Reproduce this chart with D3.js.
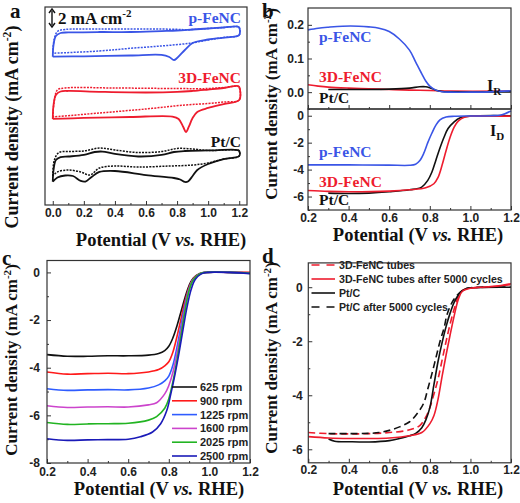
<!DOCTYPE html>
<html><head><meta charset="utf-8">
<script src="https://cdn.jsdelivr.net/npm/d3@7"></script>
<style>body{margin:0;background:#fff}svg{display:block}</style>
</head><body>
<svg id="chart" width="520" height="503"></svg>
<script>
// ---------- DATA ----------
// Panel a: cyclic voltammograms (V, offset current density in mA cm-2 units)
const cvBlueSolid=[[0,16.48],[0.005,17.78],[0.02,18.78],[0.05,19.11],[0.1,19.17],[0.3,19.22],[0.5,19.22],[0.7,19.33],[0.8,19.39],[0.9,19.5],[1.0,19.61],[1.1,19.72],[1.19,19.83],[1.2,19.72],[1.2,18.89],[1.15,18.67],[1.0,18.39],[0.9,18.0],[0.85,17.22],[0.8,16.33],[0.78,16.11],[0.75,16.44],[0.7,16.67],[0.5,16.61],[0.2,16.52],[0,16.48]];
const cvBlueDot=[[0,16.86],[0.008,18.33],[0.03,19.28],[0.08,19.5],[0.3,19.56],[0.6,19.56],[0.8,19.52],[0.86,19.47],[0.95,19.56],[1.1,19.72],[1.19,19.83],[1.2,19.72],[1.2,18.89],[1.1,18.61],[1.0,18.33],[0.88,17.97],[0.7,17.67],[0.5,17.41],[0.3,17.11],[0,16.86]];
const cvRedSolid=[[0,9.56],[0.005,11.11],[0.02,12.22],[0.05,12.61],[0.1,12.67],[0.3,12.58],[0.6,12.5],[0.8,12.56],[0.9,12.67],[1.0,12.83],[1.1,13.0],[1.19,13.22],[1.2,13.11],[1.2,11.67],[1.1,11.22],[1.0,10.78],[0.93,10.33],[0.9,9.67],[0.875,8.67],[0.857,8.11],[0.84,8.67],[0.81,9.56],[0.77,9.83],[0.5,9.78],[0.2,9.67],[0,9.56]];
const cvRedDot=[[0,9.78],[0.008,11.33],[0.03,12.78],[0.08,13.0],[0.4,13.0],[0.8,12.94],[1.0,12.94],[1.1,13.06],[1.19,13.22],[1.2,13.11],[1.2,11.67],[1.1,11.44],[1.0,11.28],[0.85,11.11],[0.6,10.67],[0.3,10.22],[0,9.78]];
const cvBlackSolid=[[0,2.59],[0.005,3.89],[0.02,5.0],[0.05,5.33],[0.1,5.39],[0.2,5.56],[0.27,5.89],[0.32,5.94],[0.4,5.67],[0.55,5.39],[0.7,5.56],[0.78,5.89],[0.85,6.0],[1.0,6.06],[1.19,6.11],[1.2,6.0],[1.2,5.44],[1.1,5.11],[1.0,4.56],[0.93,3.89],[0.9,3.22],[0.87,2.61],[0.85,2.56],[0.82,2.83],[0.78,3.0],[0.6,3.33],[0.4,3.78],[0.3,3.67],[0.25,3.11],[0.21,2.61],[0.18,2.67],[0.13,3.22],[0.08,3.28],[0.03,3.06],[0,2.59]];
const cvBlackDot=[[0,3.22],[0.01,5.0],[0.04,5.83],[0.1,5.94],[0.2,6.0],[0.3,6.33],[0.4,6.11],[0.55,5.83],[0.7,5.94],[0.8,6.28],[0.9,6.22],[1.0,6.06],[1.19,6.11],[1.2,6.0],[1.2,5.44],[1.1,5.11],[1.0,4.67],[0.9,4.44],[0.75,4.33],[0.55,4.22],[0.4,4.33],[0.3,4.11],[0.24,3.33],[0.18,3.67],[0.1,3.89],[0.03,3.67],[0,3.22]];
const cvNames=["p-FeNC","3D-FeNC","Pt/C"];

// Panel b: ring (I_R) and disk (I_D) currents
const ringBlue=[[0.2,0.185],[0.25,0.19],[0.3,0.193],[0.37,0.196],[0.45,0.196],[0.5,0.194],[0.55,0.19],[0.6,0.18],[0.65,0.158],[0.7,0.125],[0.73,0.09],[0.76,0.055],[0.78,0.033],[0.8,0.018],[0.83,0.006],[0.86,0.001],[0.9,0.0],[1.0,0.0],[1.1,0.001],[1.2,0.004]];
const ringRed=[[0.2,0.022],[0.25,0.018],[0.3,0.015],[0.4,0.012],[0.5,0.01],[0.6,0.008],[0.7,0.006],[0.8,0.005],[0.9,0.003],[1.2,0.003]];
const ringBlack=[[0.3,0.008],[0.5,0.008],[0.6,0.009],[0.7,0.012],[0.75,0.016],[0.78,0.016],[0.8,0.013],[0.83,0.006],[0.86,0.002],[0.9,0.001],[1.2,0.001]];
const diskBlue=[[0.2,-3.65],[0.4,-3.65],[0.6,-3.67],[0.7,-3.68],[0.73,-3.6],[0.75,-3.35],[0.77,-2.8],[0.79,-2.0],[0.81,-1.3],[0.83,-0.7],[0.85,-0.3],[0.88,-0.1],[0.92,-0.04],[1.0,-0.02],[1.1,0.0],[1.15,0.05],[1.2,0.35]];
const diskRed=[[0.2,-5.55],[0.3,-5.62],[0.4,-5.65],[0.6,-5.6],[0.7,-5.5],[0.78,-5.35],[0.82,-5.05],[0.84,-4.6],[0.86,-3.7],[0.88,-2.6],[0.9,-1.6],[0.92,-0.85],[0.94,-0.4],[0.97,-0.12],[1.0,-0.04],[1.2,-0.03]];
const diskBlack=[[0.3,-5.75],[0.4,-5.78],[0.5,-5.75],[0.6,-5.65],[0.7,-5.5],[0.76,-5.3],[0.79,-4.8],[0.81,-4.2],[0.83,-3.3],[0.85,-2.4],[0.87,-1.6],[0.89,-0.95],[0.92,-0.45],[0.95,-0.15],[1.0,-0.03],[1.2,0.0]];

// Panel c: LSV at various rotation rates
const rpmLabels=["625 rpm","900 rpm","1225 rpm","1600 rpm","2025 rpm","2500 rpm"];
const lsv625=[[0.2,-3.45],[0.3,-3.52],[0.4,-3.52],[0.5,-3.5],[0.6,-3.5],[0.7,-3.47],[0.75,-3.4],[0.78,-3.28],[0.8,-3.1],[0.82,-2.75],[0.84,-2.25],[0.86,-1.65],[0.88,-1.05],[0.9,-0.55],[0.92,-0.25],[0.95,-0.06],[0.98,0.0],[1.1,0.0],[1.2,-0.02]];
const lsv900=[[0.2,-4.18],[0.3,-4.27],[0.4,-4.25],[0.5,-4.23],[0.6,-4.25],[0.7,-4.18],[0.75,-4.08],[0.78,-3.92],[0.8,-3.75],[0.82,-3.35],[0.84,-2.7],[0.86,-1.95],[0.88,-1.2],[0.9,-0.62],[0.92,-0.28],[0.95,-0.07],[0.98,0.0],[1.1,0.0],[1.2,0.0]];
const lsv1225=[[0.2,-4.88],[0.3,-4.95],[0.4,-4.93],[0.5,-4.92],[0.6,-4.93],[0.7,-4.85],[0.75,-4.72],[0.78,-4.55],[0.8,-4.35],[0.82,-3.9],[0.84,-3.15],[0.86,-2.25],[0.88,-1.35],[0.9,-0.68],[0.92,-0.3],[0.95,-0.07],[0.98,0.0],[1.1,0.0],[1.2,-0.03]];
const lsv1600=[[0.2,-5.6],[0.3,-5.67],[0.4,-5.65],[0.5,-5.64],[0.6,-5.65],[0.7,-5.56],[0.74,-5.47],[0.78,-5.1],[0.8,-4.75],[0.82,-4.2],[0.84,-3.4],[0.86,-2.45],[0.88,-1.5],[0.9,-0.72],[0.92,-0.3],[0.95,-0.07],[0.98,0.0],[1.1,0.0],[1.2,-0.03]];
const lsv2025=[[0.2,-6.3],[0.3,-6.38],[0.4,-6.36],[0.5,-6.35],[0.6,-6.33],[0.7,-6.2],[0.74,-6.05],[0.78,-5.7],[0.8,-5.3],[0.82,-4.6],[0.84,-3.7],[0.86,-2.65],[0.88,-1.6],[0.9,-0.76],[0.92,-0.32],[0.95,-0.07],[0.98,0.0],[1.1,0.0],[1.2,-0.04]];
const lsv2500=[[0.2,-6.98],[0.3,-7.05],[0.4,-7.03],[0.5,-7.02],[0.6,-7.0],[0.66,-6.9],[0.72,-6.7],[0.76,-6.35],[0.79,-5.8],[0.81,-5.1],[0.83,-4.3],[0.85,-3.4],[0.87,-2.4],[0.89,-1.45],[0.91,-0.72],[0.93,-0.3],[0.96,-0.06],[0.99,0.0],[1.1,0.0],[1.2,-0.05]];

// Panel d: stability
const dNames=["3D-FeNC tubes","3D-FeNC tubes after 5000 cycles","Pt/C","Pt/C after 5000 cycles"];
const dRedDash=[[0.2,-5.38],[0.3,-5.42],[0.4,-5.43],[0.5,-5.42],[0.6,-5.38],[0.7,-5.28],[0.75,-5.12],[0.78,-4.8],[0.8,-4.45],[0.82,-3.95],[0.84,-3.4],[0.86,-2.7],[0.88,-2.0],[0.9,-1.35],[0.92,-0.8],[0.94,-0.35],[0.96,-0.12],[1.0,-0.03],[1.1,0.01],[1.2,0.1]];
const dRedSolid=[[0.2,-5.53],[0.3,-5.58],[0.4,-5.6],[0.5,-5.6],[0.6,-5.58],[0.7,-5.5],[0.76,-5.38],[0.8,-5.05],[0.82,-4.75],[0.84,-4.15],[0.86,-3.3],[0.88,-2.5],[0.9,-1.75],[0.92,-1.05],[0.94,-0.45],[0.96,-0.15],[1.0,-0.04],[1.05,0.0],[1.1,0.02],[1.15,0.06],[1.2,0.13]];
const dBlackSolid=[[0.3,-5.62],[0.33,-5.7],[0.4,-5.72],[0.5,-5.73],[0.6,-5.68],[0.65,-5.6],[0.7,-5.5],[0.73,-5.41],[0.76,-5.2],[0.78,-4.91],[0.8,-4.45],[0.82,-3.6],[0.84,-2.75],[0.86,-2.05],[0.88,-1.45],[0.9,-0.95],[0.92,-0.55],[0.95,-0.2],[0.98,-0.05],[1.0,-0.02],[1.2,0.0]];
const dBlackDash=[[0.3,-5.42],[0.4,-5.42],[0.5,-5.41],[0.55,-5.38],[0.6,-5.3],[0.65,-5.17],[0.7,-4.98],[0.74,-4.65],[0.77,-4.28],[0.79,-3.75],[0.81,-3.2],[0.83,-2.6],[0.85,-2.0],[0.87,-1.5],[0.885,-1.0],[0.91,-0.55],[0.94,-0.25],[0.97,-0.08],[1.0,-0.02],[1.2,0.0]];

// tick values
const xTicksA=[0,0.2,0.4,0.6,0.8,1.0,1.2];
const xTicksB=[0.2,0.4,0.6,0.8,1.0,1.2];
const yTicksBTop=[0,0.1,0.2];
const yTicksBBot=[-6,-4,-2,0];
const yTicksC=[-8,-6,-4,-2,0];
const yTicksD=[-6,-4,-2,0];

// ---------- DRAW ----------
const svg=d3.select("#chart");
const SERIF="'Liberation Serif','Times New Roman',serif";
const SANS="'Liberation Sans',Arial,sans-serif";
const BLUE="#3a55e6", RED="#ee1c2e", BLACK="#111";
const FRAME="#333";

function axisX(g,x,y0,ticks,minor,fmt,showLabels,pad){
  const ax=d3.axisBottom(x).tickValues(ticks).tickSize(-4).tickPadding(pad||3).tickFormat(showLabels?fmt:"");
  const gg=g.append("g").attr("transform",`translate(0,${y0})`).call(ax);
  gg.select(".domain").remove();
  gg.selectAll("line").attr("stroke",FRAME);
  gg.selectAll("text").attr("font-family",SANS).attr("font-weight","bold").attr("font-size",12).attr("fill","#222");
  if(minor){
    const am=d3.axisBottom(x).tickValues(minor).tickSize(-2).tickFormat("");
    const gm=g.append("g").attr("transform",`translate(0,${y0})`).call(am);
    gm.select(".domain").remove(); gm.selectAll("line").attr("stroke",FRAME);
  }
}
function axisY(g,y,x0,ticks,minor,fmt,pad){
  const ax=d3.axisLeft(y).tickValues(ticks).tickSize(-4).tickPadding(pad||4).tickFormat(fmt);
  const gg=g.append("g").attr("transform",`translate(${x0},0)`).call(ax);
  gg.select(".domain").remove();
  gg.selectAll("line").attr("stroke",FRAME);
  gg.selectAll("text").attr("font-family",SANS).attr("font-weight","bold").attr("font-size",12).attr("fill","#222");
  if(minor){
    const am=d3.axisLeft(y).tickValues(minor).tickSize(-2).tickFormat("");
    const gm=g.append("g").attr("transform",`translate(${x0},0)`).call(am);
    gm.select(".domain").remove(); gm.selectAll("line").attr("stroke",FRAME);
  }
}
function frame(x,y){
  const [x0,x1]=x.range(), [y0,y1]=y.range();
  svg.append("rect").attr("x",x0).attr("y",Math.min(y0,y1)).attr("width",x1-x0).attr("height",Math.abs(y0-y1))
    .attr("fill","none").attr("stroke",FRAME).attr("stroke-width",1.2);
}
function curve(g,data,x,y,color,dash,w){
  const line=d3.line().x(d=>x(d[0])).y(d=>y(d[1])).curve(d3.curveCatmullRom.alpha(0.5));
  g.append("path").datum(data).attr("d",line).attr("fill","none").attr("stroke",color)
   .attr("stroke-width",w||1.6).attr("stroke-dasharray",dash||null).attr("stroke-linejoin","round");
}
function xlabel(cx,by){
  const t=svg.append("text").attr("x",cx).attr("y",by).attr("text-anchor","middle")
    .attr("font-family",SERIF).attr("font-weight","bold").attr("font-size",18.5).attr("fill","#111");
  t.append("tspan").text("Potential (V ");
  t.append("tspan").attr("font-style","italic").text("vs.");
  t.append("tspan").text(" RHE)");
}
function ylabel(cx,cy,fs){
  const t=svg.append("text").attr("transform",`translate(${cx},${cy}) rotate(-90)`).attr("text-anchor","middle")
    .attr("dy","0.35em").attr("font-family",SERIF).attr("font-weight","bold").attr("font-size",fs).attr("fill","#111");
  t.append("tspan").text("Current density (mA cm");
  t.append("tspan").attr("font-size",fs*0.65).attr("dy",-fs*0.38).text("-2");
  t.append("tspan").attr("dy",fs*0.38).text(")");
}
function plabel(x,y,s){
  svg.append("text").attr("x",x).attr("y",y).attr("font-family",SERIF).attr("font-weight","bold")
    .attr("font-size",21).attr("fill","#111").text(s);
}
function tlabel(x,y,s,color,anchor){
  svg.append("text").attr("x",x).attr("y",y).attr("text-anchor",anchor||"start").attr("font-family",SERIF)
    .attr("font-weight","bold").attr("font-size",15.5).attr("fill",color).text(s);
}
const fmt1=d3.format(".1f");
const fmtI=d=>d3.format("d")(d).replace("−","-");

// ----- Panel a -----
{
  const x=d3.scaleLinear().domain([-0.05,1.25]).range([45,247]);
  const y=d3.scaleLinear().domain([0,22]).range([205,7]);
  const g=svg.append("g");
  frame(x,y);
  axisX(g,x,205,xTicksA,[0.1,0.3,0.5,0.7,0.9,1.1],fmt1,true);
  const dot="2,1.2";
  curve(g,cvBlueDot,x,y,BLUE,dot,1.5);
  curve(g,cvBlueSolid,x,y,BLUE,null,1.8);
  curve(g,cvRedDot,x,y,RED,dot,1.5);
  curve(g,cvRedSolid,x,y,RED,null,1.8);
  curve(g,cvBlackDot,x,y,BLACK,dot,1.5);
  curve(g,cvBlackSolid,x,y,BLACK,null,1.8);
  tlabel(241,23,cvNames[0],BLUE,"end");
  tlabel(241,83,cvNames[1],RED,"end");
  tlabel(241,147,cvNames[2],BLACK,"end");
  // scale bar 2 mA cm-2
  const sb0=y(22)+2, sb1=sb0+ (y(0)-y(2));
  const sx=52;
  svg.append("line").attr("x1",sx).attr("x2",sx).attr("y1",sb0+2).attr("y2",sb1-2).attr("stroke","#111").attr("stroke-width",1.4);
  svg.append("path").attr("d",`M${sx-3},${sb0+4}L${sx},${sb0}L${sx+3},${sb0+4}`).attr("fill","none").attr("stroke","#111").attr("stroke-width",1.4);
  svg.append("path").attr("d",`M${sx-3},${sb1-4}L${sx},${sb1}L${sx+3},${sb1-4}`).attr("fill","none").attr("stroke","#111").attr("stroke-width",1.4);
  const t=svg.append("text").attr("x",58).attr("y",24).attr("font-family",SERIF).attr("font-weight","bold").attr("font-size",17).attr("fill","#111");
  t.append("tspan").text("2 mA cm");
  t.append("tspan").attr("font-size",11).attr("dy",-7).text("-2");
  xlabel(161,246);
  ylabel(12,127,18);
  plabel(10,18,"a");
}
// ----- Panel b -----
{
  const x=d3.scaleLinear().domain([0.2,1.2]).range([308,511]);
  const yT=d3.scaleLinear().domain([-0.05,0.25]).range([109,8]);
  const yB=d3.scaleLinear().domain([-7,0.5]).range([210,109]);
  const g=svg.append("g");
  frame(x,yT); frame(x,yB);
  axisX(g,x,109,xTicksB,[0.3,0.5,0.7,0.9,1.1],fmt1,false);
  axisX(g,x,210,xTicksB,[0.3,0.5,0.7,0.9,1.1],fmt1,true);
  axisY(g,yT,308,yTicksBTop,[-0.05,0.05,0.15],fmt1,4);
  axisY(g,yB,308,yTicksBBot,[-7,-5,-3,-1],fmtI,4);
  curve(g,ringRed,x,yT,RED,null,1.6);
  curve(g,ringBlack,x,yT,BLACK,null,1.6);
  curve(g,ringBlue,x,yT,BLUE,null,1.6);
  curve(g,diskBlack,x,yB,BLACK,null,1.6);
  curve(g,diskRed,x,yB,RED,null,1.6);
  curve(g,diskBlue,x,yB,BLUE,null,1.6);
  tlabel(319,42,cvNames[0],BLUE);
  tlabel(319,82,cvNames[1],RED);
  tlabel(319,103,cvNames[2],BLACK);
  tlabel(319,157,cvNames[0],BLUE);
  tlabel(319,187,cvNames[1],RED);
  tlabel(319,205,cvNames[2],BLACK);
  const r=svg.append("text").attr("x",487).attr("y",91).attr("font-family",SERIF).attr("font-weight","bold").attr("font-size",16).attr("fill","#111");
  r.append("tspan").text("I"); r.append("tspan").attr("font-size",11).attr("dy",4).text("R");
  const dd=svg.append("text").attr("x",490).attr("y",136).attr("font-family",SERIF).attr("font-weight","bold").attr("font-size",16).attr("fill","#111");
  dd.append("tspan").text("I"); dd.append("tspan").attr("font-size",11).attr("dy",4).text("D");
  xlabel(418,241);
  ylabel(271,104,17);
  plabel(262,18,"b");
}
// ----- Panel c -----
{
  const x=d3.scaleLinear().domain([0.2,1.2]).range([47,250]);
  const y=d3.scaleLinear().domain([-8,0.5]).range([463,260.5]);
  const g=svg.append("g");
  frame(x,y);
  axisX(g,x,463,xTicksB,[0.3,0.5,0.7,0.9,1.1],fmt1,true,4);
  axisY(g,y,47,yTicksC,[-7,-5,-3,-1],fmtI,7);
  const cols=["#111","#ff1a1a","#2f5cff","#cc44cc","#22b422","#1a1ab8"];
  const sets=[lsv625,lsv900,lsv1225,lsv1600,lsv2025,lsv2500];
  sets.forEach((s,i)=>curve(g,s,x,y,cols[i],null,1.6));
  rpmLabels.forEach((s,i)=>{
    const yy=387+i*13.8;
    svg.append("line").attr("x1",172).attr("x2",197).attr("y1",yy).attr("y2",yy).attr("stroke",cols[i]).attr("stroke-width",1.6);
    svg.append("text").attr("x",200).attr("y",yy+4).attr("font-family",SANS).attr("font-weight","bold").attr("font-size",11).attr("fill","#222").text(s);
  });
  xlabel(159,495);
  ylabel(11,360,17);
  plabel(2,265,"c");
}
// ----- Panel d -----
{
  const x=d3.scaleLinear().domain([0.2,1.2]).range([308.3,511]);
  const y=d3.scaleLinear().domain([-6.5,0.9]).range([462.8,262.9]);
  const g=svg.append("g");
  frame(x,y);
  axisX(g,x,462.8,xTicksB,[0.3,0.5,0.7,0.9,1.1],fmt1,true);
  axisY(g,y,308.3,yTicksD,[-5,-3,-1],fmtI,5.5);
  const dash="7,4";
  curve(g,dRedDash,x,y,RED,dash,1.6);
  curve(g,dBlackDash,x,y,BLACK,dash,1.6);
  curve(g,dBlackSolid,x,y,BLACK,null,1.6);
  curve(g,dRedSolid,x,y,RED,null,1.6);
  const lc=[RED,RED,BLACK,BLACK], ld=["8,7",null,null,"8,7"];
  dNames.forEach((s,i)=>{
    const yy=265+i*14;
    svg.append("line").attr("x1",311.5).attr("x2",335).attr("y1",yy).attr("y2",yy).attr("stroke",lc[i]).attr("stroke-width",1.6).attr("stroke-dasharray",ld[i]);
    svg.append("text").attr("x",339).attr("y",yy+4).attr("font-family",SANS).attr("font-weight","bold").attr("font-size",10.6).attr("fill","#222").text(s);
  });
  xlabel(418,495);
  ylabel(271,358,17);
  plabel(262,263,"d");
}
</script>
</body></html>
